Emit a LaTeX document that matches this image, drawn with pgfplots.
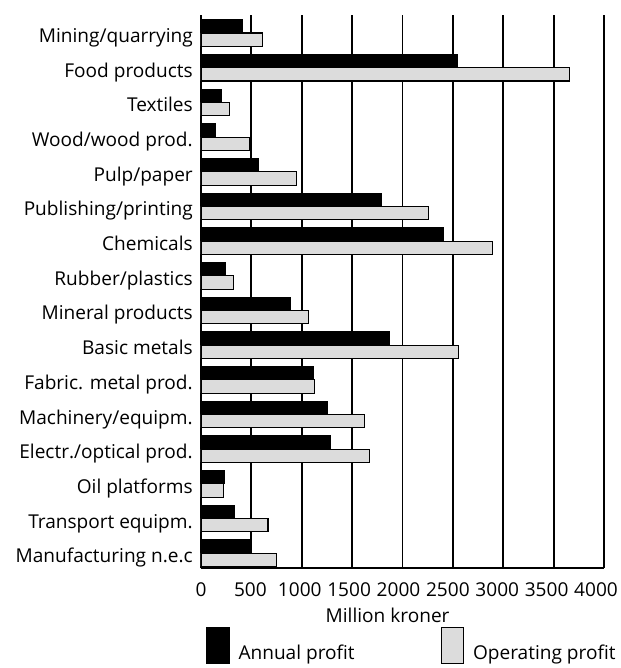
\documentclass[border=0pt]{standalone}
\usepackage{fontspec}
\setmainfont{Open Sans}
\usepackage{pgfplots}
\pgfplotsset{compat=1.18}
\usetikzlibrary{calc}
\definecolor{opgray}{HTML}{DCDCDC}

\begin{document}
\begin{tikzpicture}
\begin{axis}[
  name=ax,
  scale only axis,
  width=302.25pt,
  height=414.75pt,
  font=\fontsize{14.3pt}{17pt}\selectfont,
  /pgf/number format/assume math mode=true,
  /pgf/number format/1000 sep={},
  xmin=0, xmax=4000,
  ymin=-0.43, ymax=15.52,
  xtick={0,500,...,4000},
  ytick={0,...,15},
  yticklabels={Manufacturing n.e.c,Transport equipm.,Oil platforms,Electr./optical prod.,Machinery/equipm.,Fabric. metal prod.,Basic metals,Mineral products,Rubber/plastics,Chemicals,Publishing/printing,Pulp/paper,Wood/wood prod.,Textiles,Food products,Mining/quarrying},
  major tick length=0pt,
  axis x line*=bottom,
  axis y line*=left,
  axis line style={black, line width=1.4pt},
  xmajorgrids=true,
  grid style={black, line width=1.4pt},
  xticklabel style={anchor=north, inner sep=0pt, yshift=-10.5pt, xshift={-0.75pt*\ticknum}},
  yticklabel style={anchor=base east, inner sep=0pt, xshift=-6pt, yshift=-7.2pt},
  xlabel={Million kroner},
  xlabel style={at={(axis description cs:0.463,0)}, anchor=north, inner sep=0pt, yshift=-30pt},
  legend columns=2,
  legend style={at={(axis description cs:0.0124,-0.106)}, anchor=north west,
    draw=none, inner sep=0pt, outer sep=0pt, column sep=0pt,
    nodes={inner sep=0pt}},
  legend image code/.code={
    \draw[#1, line width=0.8pt] (0pt,-8pt) rectangle (17pt,19.5pt);
    \path[draw=none, fill=none] (24pt,0pt) circle (0pt);
  },
]
\addplot[xbar, bar width=10pt, bar shift=5pt, fill=black, draw=black, line width=0.6pt] coordinates {
  (413,15) (2546,14) (205,13) (139,12) (569,11) (1792,10) (2407,9) (241,8)
  (889,7) (1868,6) (1111,5) (1250,4) (1283,3) (228,2) (331,1) (503,0)
};
\addlegendentry{\makebox[151.5pt][l]{Annual profit}}
\addplot[xbar, bar width=10pt, bar shift=-5pt, fill=opgray, draw=black, line width=0.8pt] coordinates {
  (608,15) (3660,14) (284,13) (483,12) (949,11) (2255,10) (2889,9) (321,8)
  (1065,7) (2556,6) (1127,5) (1627,4) (1676,3) (221,2) (665,1) (754,0)
};
\addlegendentry{Operating profit}
\end{axis}
\pgfresetboundingbox
\path ([shift={(-150.75pt,-75pt)}]ax.south west) rectangle ([shift={(315pt,426pt)}]ax.south west);
\end{tikzpicture}
\end{document}
